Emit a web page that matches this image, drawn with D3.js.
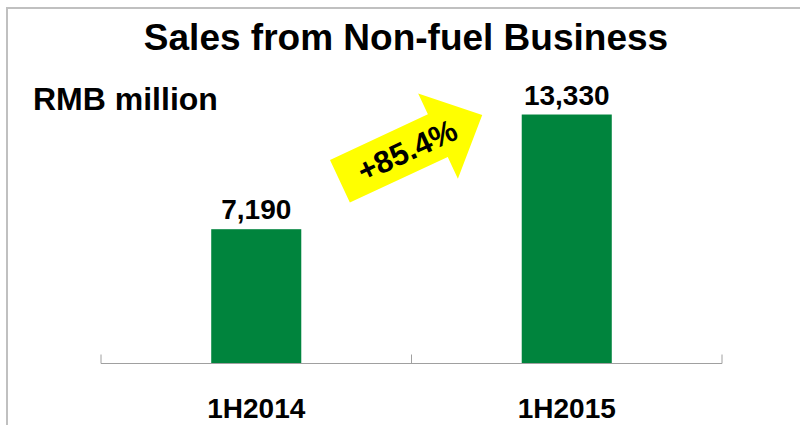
<!DOCTYPE html>
<html><head><meta charset="utf-8">
<script src="https://cdn.jsdelivr.net/npm/d3@7"></script>
<style>html,body{margin:0;padding:0;background:#fff;}svg{display:block;font-family:"Liberation Sans",Arial,sans-serif;}</style>
</head><body>
<script>
const categories = ["1H2014", "1H2015"];
const values = [7190, 13330];
const valueLabels = ["7,190", "13,330"];
const growthLabel = "+85.4%";
const titleText = "Sales from Non-fuel Business";
const unitText = "RMB million";

const W = 800, H = 430;
const svg = d3.select("body").append("svg").attr("width", W).attr("height", H);

// frame
svg.append("path").attr("d", "M7,425 V8 H800").attr("fill", "none").attr("stroke", "#c0c0c0").attr("stroke-width", 2);

const x = d3.scaleBand().domain(categories).range([101, 722]).paddingInner(0.71).paddingOuter(0.355);
const y = d3.scaleLinear().domain([0, 14000]).range([363.5, 102]);

// bars
svg.selectAll("rect.bar").data(values).join("rect").attr("class", "bar")
  .attr("x", (d, i) => x(categories[i]))
  .attr("width", x.bandwidth())
  .attr("y", d => y(d))
  .attr("height", d => y(0) - y(d))
  .attr("fill", "#00843d");

// axis
const axis = svg.append("g").attr("transform", `translate(0,${y(0)})`);
axis.append("line").attr("x1", 101).attr("x2", 722).attr("stroke", "#a0a0a0").attr("stroke-width", 1);
const tickXs = [101].concat(categories.map(c => x(c) + x.bandwidth() / 2 + x.step() / 2));
axis.selectAll("line.tick").data(tickXs).join("line").attr("class", "tick")
  .attr("x1", d => d).attr("x2", d => d).attr("y1", -9).attr("y2", 0)
  .attr("stroke", "#a0a0a0").attr("stroke-width", 1);

// category labels
svg.selectAll("text.cat").data(categories).join("text").attr("class", "cat")
  .attr("x", d => x(d) + x.bandwidth() / 2).attr("y", 418)
  .attr("text-anchor", "middle").attr("font-weight", "bold").attr("font-size", 28)
  .text(d => d);

// value labels
svg.selectAll("text.val").data(values).join("text").attr("class", "val")
  .attr("x", (d, i) => x(categories[i]) + x.bandwidth() / 2).attr("y", d => y(d) - 10)
  .attr("text-anchor", "middle").attr("font-weight", "bold").attr("font-size", 28)
  .text((d, i) => valueLabels[i]);

// title
svg.append("text").attr("x", 406).attr("y", 50).attr("text-anchor", "middle")
  .attr("font-weight", "bold").attr("font-size", 37).text(titleText);

// unit
svg.append("text").attr("x", 33).attr("y", 110)
  .attr("font-weight", "bold").attr("font-size", 32).text(unitText);

// arrow
const arrow = svg.append("g").attr("transform", "translate(330,160) rotate(-25)");
arrow.append("path")
  .attr("d", "M0,0 H108 V-23 L157,23.5 L108,71 V47 H0 Z")
  .attr("fill", "#ffff00");
arrow.append("text").attr("x", 74).attr("y", 23.5).attr("dy", "0.36em")
  .attr("text-anchor", "middle").attr("font-weight", "bold").attr("font-size", 31)
  .text(growthLabel);
</script>
</body></html>
